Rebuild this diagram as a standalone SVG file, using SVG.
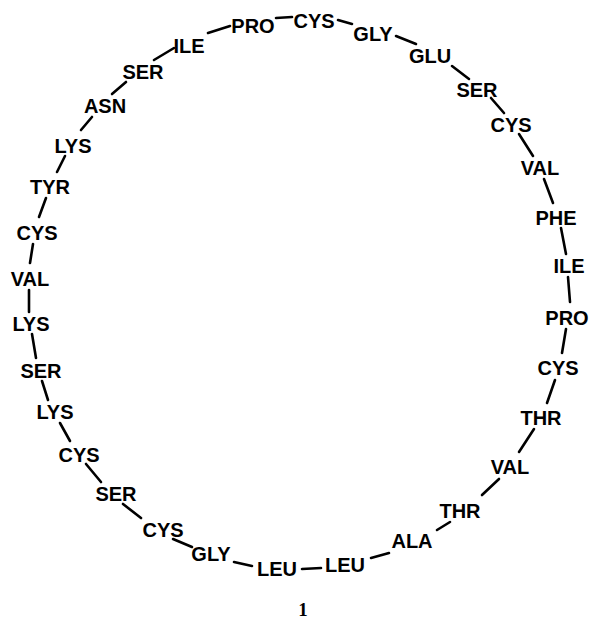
<svg xmlns="http://www.w3.org/2000/svg" width="589" height="621" viewBox="0 0 589 621">
<style>
.r{font-family:"Liberation Sans",Arial,sans-serif;font-size:20px;font-weight:bold;text-anchor:middle;fill:#000}
.n{font-family:"Liberation Serif","Times New Roman",serif;font-size:19px;font-weight:bold;text-anchor:middle;fill:#000}
#connectors line{stroke:#000;stroke-width:2.6;stroke-linecap:round}
</style>
<rect width="589" height="621" fill="#fff"/>
<g id="connectors">
<line x1="208" y1="33" x2="230" y2="26"/>
<line x1="276" y1="18" x2="292" y2="17"/>
<line x1="338" y1="20" x2="352" y2="24"/>
<line x1="396" y1="36" x2="416" y2="44"/>
<line x1="452" y1="66" x2="469" y2="79"/>
<line x1="491" y1="98" x2="504" y2="113"/>
<line x1="519" y1="134" x2="533" y2="156"/>
<line x1="544" y1="179" x2="553" y2="203"/>
<line x1="561" y1="228" x2="566" y2="254"/>
<line x1="568" y1="277" x2="570" y2="302"/>
<line x1="566" y1="329" x2="562" y2="353"/>
<line x1="555" y1="380" x2="547" y2="403"/>
<line x1="534" y1="429" x2="519" y2="452"/>
<line x1="499" y1="479" x2="482" y2="495"/>
<line x1="450" y1="522" x2="437" y2="530"/>
<line x1="371" y1="558" x2="389" y2="553"/>
<line x1="302" y1="569" x2="321" y2="568"/>
<line x1="234" y1="562" x2="252" y2="566"/>
<line x1="173" y1="539" x2="192" y2="547"/>
<line x1="123" y1="504" x2="141" y2="518"/>
<line x1="86" y1="464" x2="101" y2="482"/>
<line x1="60" y1="423" x2="70" y2="441"/>
<line x1="42" y1="381" x2="48" y2="400"/>
<line x1="32" y1="334" x2="36" y2="358"/>
<line x1="29" y1="290" x2="29" y2="312"/>
<line x1="33" y1="244" x2="30" y2="263"/>
<line x1="46" y1="198" x2="39" y2="217"/>
<line x1="57" y1="172" x2="65" y2="156"/>
<line x1="81" y1="130" x2="92" y2="117"/>
<line x1="112" y1="94" x2="126" y2="82"/>
<line x1="154" y1="60" x2="174" y2="48"/>
</g>
<g id="n1"><text class="r" x="253" y="33">PRO</text></g>
<g id="n2"><text class="r" x="314" y="28">CYS</text></g>
<g id="n3"><text class="r" x="373" y="41">GLY</text></g>
<g id="n4"><text class="r" x="430" y="63">GLU</text></g>
<g id="n5"><text class="r" x="477" y="97">SER</text></g>
<g id="n6"><text class="r" x="511" y="132">CYS</text></g>
<g id="n7"><text class="r" x="540" y="175">VAL</text></g>
<g id="n8"><text class="r" x="556" y="225">PHE</text></g>
<g id="n9"><text class="r" x="569" y="273">ILE</text></g>
<g id="n10"><text class="r" x="567" y="325">PRO</text></g>
<g id="n11"><text class="r" x="558" y="375">CYS</text></g>
<g id="n12"><text class="r" x="541" y="425">THR</text></g>
<g id="n13"><text class="r" x="510" y="474">VAL</text></g>
<g id="n14"><text class="r" x="460" y="518">THR</text></g>
<g id="n15"><text class="r" x="412" y="548">ALA</text></g>
<g id="n16"><text class="r" x="345" y="572">LEU</text></g>
<g id="n17"><text class="r" x="277" y="576">LEU</text></g>
<g id="n18"><text class="r" x="211" y="561">GLY</text></g>
<g id="n19"><text class="r" x="163" y="537">CYS</text></g>
<g id="n20"><text class="r" x="116" y="501">SER</text></g>
<g id="n21"><text class="r" x="79" y="462">CYS</text></g>
<g id="n22"><text class="r" x="55" y="419">LYS</text></g>
<g id="n23"><text class="r" x="41" y="378">SER</text></g>
<g id="n24"><text class="r" x="31" y="331">LYS</text></g>
<g id="n25"><text class="r" x="30" y="286">VAL</text></g>
<g id="n26"><text class="r" x="37" y="240">CYS</text></g>
<g id="n27"><text class="r" x="50" y="194">TYR</text></g>
<g id="n28"><text class="r" x="73" y="153">LYS</text></g>
<g id="n29"><text class="r" x="105" y="113">ASN</text></g>
<g id="n30"><text class="r" x="143" y="79">SER</text></g>
<g id="n31"><text class="r" x="189" y="53">ILE</text></g>
<g id="label"><text class="n" x="303" y="616">1</text></g>
</svg>
